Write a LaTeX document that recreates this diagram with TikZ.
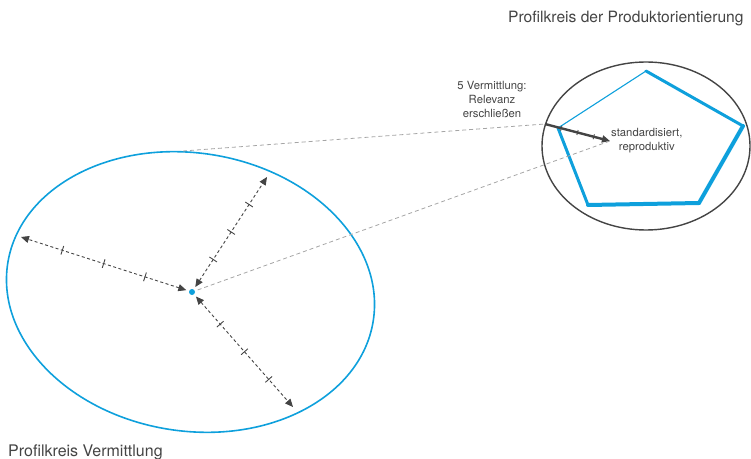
\documentclass[tikz,border=0pt]{standalone}
\usepackage{fontspec}
\setmainfont{TeX Gyre Heros}
\usetikzlibrary{arrows.meta}
\definecolor{profilblau}{RGB}{14,160,220}
\definecolor{dunkelgrau}{RGB}{68,68,68}
\definecolor{hellgrau}{RGB}{165,165,165}

\begin{document}
\begin{tikzpicture}[x=1pt,y=1pt,
  achse/.style={dunkelgrau,line width=.9pt,dash pattern=on 3pt off 2.5pt,
    {Triangle[length=8pt,width=7pt]}-{Triangle[length=8pt,width=7pt]}},
  strich/.style={draw=dunkelgrau,solid,sloped,inner sep=0pt,minimum width=0pt,
    minimum height=#1,line width=.9pt},
  strich/.default=9pt,
  bezug/.style={hellgrau,line width=.8pt,dash pattern=on 4pt off 3pt},
  kante/.style={profilblau,line width=#1,line cap=round},
  schrift/.style={text=dunkelgrau,inner sep=0pt,font=\fontsize{#1}{14}\selectfont},
  schrift/.default=11.3]
\useasboundingbox (0,0) rectangle (751,458);

% Profilkreis Vermittlung
\draw[profilblau,line width=1.6pt,rotate around={-9:(190.5,166)}]
  (190.5,166) ellipse [x radius=185,y radius=139];
\node[circle,fill=profilblau,minimum size=6pt,inner sep=0pt,outer sep=3pt] (zentrum) at (192,166) {};
\coordinate (kreisoben) at (183,307);
\coordinate (achseA) at (21,221);
\coordinate (achseB) at (267,281);
\coordinate (achseC) at (293,51);
\foreach \ende in {achseA,achseB,achseC}
  \draw[achse] (zentrum) -- (\ende)
    node[strich,pos=.25]{} node[strich,pos=.5]{} node[strich,pos=.75]{};

% Profilkreis der Produktorientierung
\draw[dunkelgrau,line width=1.4pt] (646,312) ellipse [x radius=104,y radius=84];
\coordinate (eckoben) at (646,387);
\coordinate (eckrechts) at (743,332);
\coordinate (eckuntenrechts) at (699,255);
\coordinate (eckuntenlinks) at (588,253);
\coordinate (ecklinks) at (558,330);
\draw[kante=1.1pt] (ecklinks) -- (eckoben);
\draw[kante=3pt] (eckoben) -- (eckrechts);
\draw[kante=4pt] (eckrechts) -- (eckuntenrechts);
\draw[kante=4pt] (eckuntenrechts) -- (eckuntenlinks);
\draw[kante=3pt] (eckuntenlinks) -- (ecklinks);

\coordinate (pfeilanfang) at (545,334);
\coordinate (pfeilspitze) at (610,317);
\draw[dunkelgrau,line width=2.4pt,-{Triangle[length=8pt,width=7pt]}] (pfeilanfang) -- (pfeilspitze)
  node[strich=5pt,pos=.25]{} node[strich=5pt,pos=.5]{} node[strich=5pt,pos=.75]{};

% Verbindung der beiden Kreise
\draw[bezug] (kreisoben) -- (pfeilanfang);
\draw[bezug] (zentrum) -- (pfeilspitze);

% Texte
\node[schrift,align=center] (vermittlung) at (492,359) {5 Vermittlung:\\Relevanz\\erschließen};
\node[schrift,align=center,anchor=west] (produktprofil) at ([xshift=1pt]pfeilspitze) {standardisiert,\\reproduktiv};
\node[schrift=15.6,anchor=base west] (titeloben) at (508,435) {Profilkreis der Produktorientierung};
\node[schrift=16,anchor=base west] (titelunten) at (8,2) {Profilkreis Vermittlung};
\end{tikzpicture}
\end{document}
